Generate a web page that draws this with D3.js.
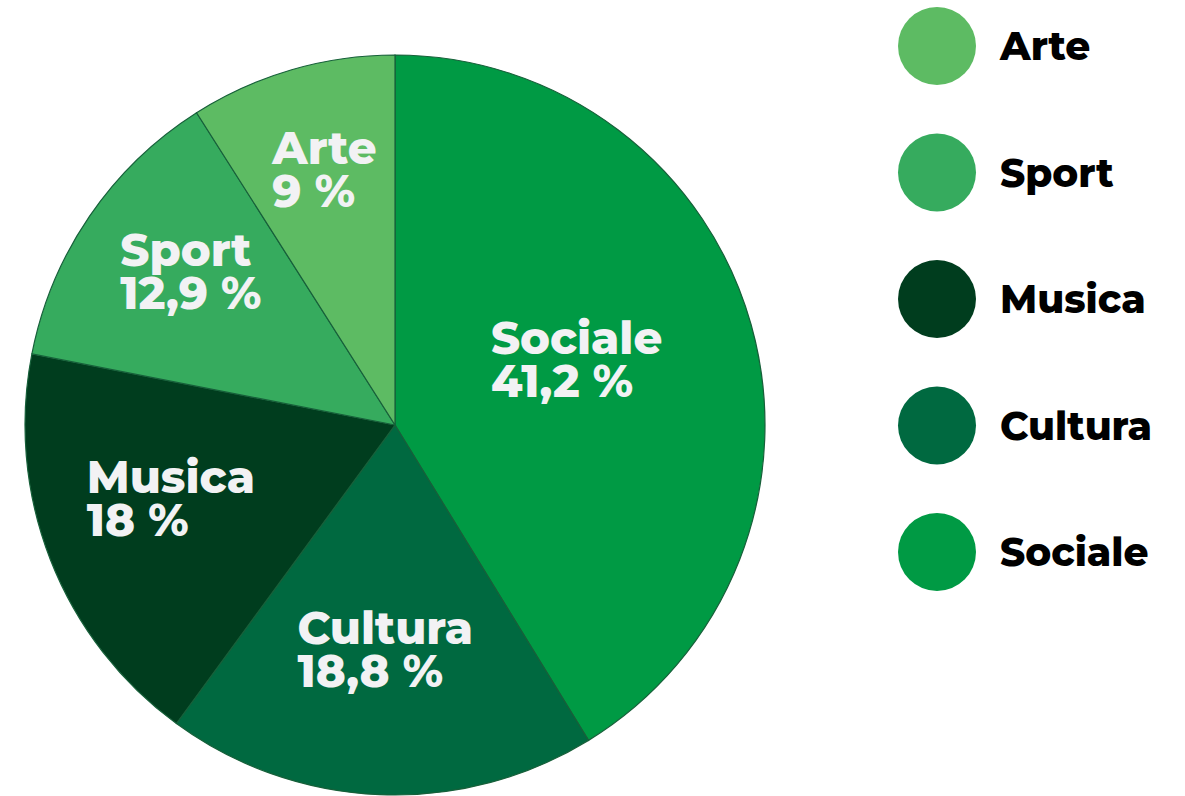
<!DOCTYPE html>
<html>
<head>
<meta charset="utf-8">
<script src="https://cdn.jsdelivr.net/npm/d3@7"></script>
<style>
  body { margin: 0; background: #fff; }
  text { font-family: "Montserrat", "DejaVu Sans", sans-serif; font-weight: 800; }
</style>
</head>
<body>
<svg id="chart" width="1185" height="796"></svg>
<script>
// slices, clockwise from 12 o'clock
var categories = ["Sociale", "Cultura", "Musica", "Sport", "Arte"];
var values = [41.2, 18.8, 18, 12.9, 9];
var valueLabels = ["41,2 %", "18,8 %", "18 %", "12,9 %", "9 %"];
var colors = ["#009a44", "#006940", "#003d1e", "#36ab5e", "#5dbb63"];
// legend order (top to bottom)
var legendOrder = ["Arte", "Sport", "Musica", "Cultura", "Sociale"];

var svg = d3.select("#chart");
var cx = 395, cy = 425, radius = 370;

var color = d3.scaleOrdinal().domain(categories).range(colors);

var dataset = categories.map(function(c, i) {
    return { label: c, count: values[i], text: valueLabels[i] };
});

var pie = d3.pie().value(function(d) { return d.count; }).sort(null);
var arc = d3.arc().innerRadius(0).outerRadius(radius);

var g = svg.append("g").attr("transform", "translate(" + cx + "," + cy + ")");

g.selectAll("path")
    .data(pie(dataset))
    .enter()
    .append("path")
    .attr("d", arc)
    .attr("fill", function(d) { return color(d.data.label); })
    .attr("stroke", "#17603a")
    .attr("stroke-width", 1.2);

// geometric centroid of a circular sector
function sectorCentroid(d) {
    var half = (d.endAngle - d.startAngle) / 2;
    var mid = d.startAngle + half;
    var dist = 1.03 * 2 * radius * Math.sin(half) / (3 * half);
    return [Math.sin(mid) * dist, -Math.cos(mid) * dist];
}

var labels = g.selectAll("g.lbl")
    .data(pie(dataset))
    .enter()
    .append("g")
    .attr("class", "lbl");

labels.each(function(d) {
    var el = d3.select(this);
    var t = el.append("text")
        .attr("fill", "#f2f2f4")
        .style("font-size", "45px");
    t.append("tspan").attr("x", 0).attr("y", 0).text(d.data.label);
    t.append("tspan").attr("x", 0).attr("y", 43).text(d.data.text);
    var w = t.node().getBBox().width;
    var c = sectorCentroid(d);
    el.attr("transform", "translate(" + (c[0] - w / 2) + "," + (c[1] - 20) + ")");
});

// legend
var legendY = d3.scalePoint().domain(legendOrder).range([46, 552]);

var legend = svg.selectAll("g.legend")
    .data(legendOrder)
    .enter()
    .append("g")
    .attr("class", "legend")
    .attr("transform", function(d) { return "translate(937," + legendY(d) + ")"; });

legend.append("circle")
    .attr("r", 39)
    .attr("fill", function(d) { return color(d); });

legend.append("text")
    .attr("x", 63)
    .attr("y", 14)
    .attr("fill", "#000")
    .style("font-size", "39px")
    .text(function(d) { return d; });
</script>
</body>
</html>
